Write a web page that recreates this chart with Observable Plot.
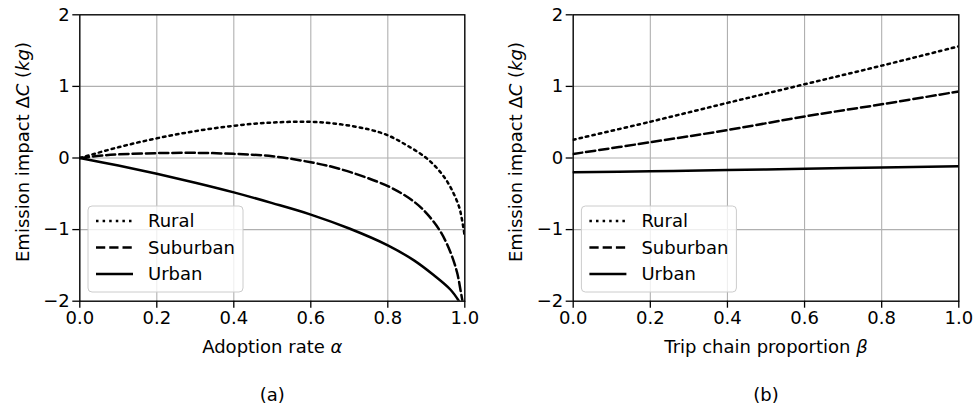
<!DOCTYPE html>
<html><head><meta charset="utf-8">
<script src="https://cdn.jsdelivr.net/npm/d3@7"></script>
<script src="https://cdn.jsdelivr.net/npm/@observablehq/plot@0.6"></script>
<style>
body{margin:0;background:#fff;font-family:"DejaVu Sans",sans-serif;}
#wrap{position:relative;width:975px;height:412px;overflow:hidden;}
.panel{position:absolute;top:0;}
</style></head><body><div id="wrap"></div><script>
// ---- data ----
const seriesNames = ["Rural", "Suburban", "Urban"];
const xTicks = [0, 0.2, 0.4, 0.6, 0.8, 1.0];
const yTicks = [-2, -1, 0, 1, 2];

// Panel (a): adoption rate alpha
const alphaRural = [0, 0.1, 0.2, 0.3, 0.4, 0.5, 0.6, 0.677, 0.75, 0.8, 0.85, 0.9, 0.937, 0.963, 0.985, 0.993, 1.0];
const ruralA     = [0, 0.15, 0.275, 0.375, 0.45, 0.495, 0.505, 0.47, 0.40, 0.317, 0.175, 0.0, -0.2, -0.41, -0.68, -0.87, -1.1];
const alphaSub   = [0, 0.05, 0.1, 0.2, 0.3, 0.4, 0.5, 0.6, 0.677, 0.803, 0.868, 0.902, 0.937, 0.963, 0.98, 0.989, 0.994];
const suburbanA  = [0, 0.03, 0.05, 0.068, 0.072, 0.058, 0.025, -0.06, -0.155, -0.40, -0.61, -0.78, -1.03, -1.32, -1.6, -1.85, -2.0];
const alphaUrban = [0, 0.1, 0.2, 0.3, 0.4, 0.5, 0.6, 0.7, 0.8, 0.868, 0.919, 0.963, 0.985];
const urbanA     = [0, -0.105, -0.22, -0.345, -0.48, -0.63, -0.79, -0.985, -1.22, -1.43, -1.635, -1.84, -2.0];

// Panel (b): trip chain proportion beta
const beta      = [0, 0.2, 0.4, 0.6, 0.8, 1.0];
const ruralB    = [0.255, 0.507, 0.77, 1.03, 1.29, 1.56];
const suburbanB = [0.056, 0.22, 0.39, 0.58, 0.75, 0.93];
const urbanB    = [-0.2, -0.185, -0.168, -0.15, -0.133, -0.116];

const yLabelParts = [["Emission impact \u0394", false], ["C", true], [" (", false], ["kg", true], [")", false]];
const xLabelA = [["Adoption rate ", false], ["\u03b1", true]];
const xLabelB = [["Trip chain proportion ", false], ["\u03b2", true]];

// ---- styles ----
const dashes = {Rural: "2.5,4.1", Suburban: "9.25,4", Urban: null};
const FONT = "DejaVu Sans";

function rows(xs, ys, s) { return xs.map((x, i) => ({x, y: ys[i], s})); }

function richText(svg, plain, parts) {
  d3.select(svg).selectAll("text").each(function() {
    if (this.textContent === plain) {
      const t = d3.select(this);
      t.text(null);
      parts.forEach(([str, it]) => {
        const ts = t.append("tspan").text(str);
        if (it) ts.attr("font-style", "italic");
      });
    }
  });
}

function addLegend(svg, fx, fy) {
  const W = 155, H = 86;
  const g = d3.select(svg).append("g")
    .attr("transform", `translate(${fx + 8.7},${fy - 8.7 - H})`);
  g.append("rect").attr("width", W).attr("height", H).attr("rx", 4)
    .attr("fill", "white").attr("fill-opacity", 0.8)
    .attr("stroke", "#cccccc").attr("stroke-width", 1);
  seriesNames.forEach((name, i) => {
    const y = 15 + i * 26.5;
    const ln = g.append("line").attr("x1", 8).attr("x2", 45).attr("y1", y).attr("y2", y)
      .attr("stroke", "black").attr("stroke-width", 2.5);
    if (dashes[name]) ln.attr("stroke-dasharray", dashes[name]);
    g.append("text").attr("x", 60).attr("y", y).attr("dy", "0.35em")
      .attr("text-anchor", "start")
      .attr("font-size", 18).attr("font-family", FONT).attr("fill", "black").text(name);
  });
}

function panel({data, xParts, caption, left, width, marginLeft, marginRight}) {
  const marginTop = 14.3, marginBottom = 412 - 300.7;
  const xPlain = xParts.map(d => d[0]).join("");
  const yPlain = yLabelParts.map(d => d[0]).join("");
  const svg = Plot.plot({
    width, height: 412, marginLeft, marginRight, marginTop, marginBottom,
    style: "font-family: 'DejaVu Sans'; font-size: 18px; color: black; background: white;",
    x: {domain: [0, 1]},
    y: {domain: [-2, 2]},
    marks: [
      Plot.gridX(xTicks, {stroke: "#b0b0b0", strokeOpacity: 1, strokeWidth: 1.1}),
      Plot.gridY(yTicks, {stroke: "#b0b0b0", strokeOpacity: 1, strokeWidth: 1.1}),
      ...seriesNames.map(name => Plot.line(data.filter(d => d.s === name), {
        x: "x", y: "y", stroke: "black", strokeWidth: 2.5,
        strokeDasharray: dashes[name] || undefined, curve: "catmull-rom", clip: true
      })),
      Plot.frame({stroke: "black", strokeWidth: 1.3}),
      Plot.axisX(xTicks, {tickSize: 7, tickPadding: 3, tickFormat: d3.format(".1f"), label: null, strokeWidth: 1.3, fontSize: 18}),
      Plot.axisY(yTicks, {tickSize: 7, tickPadding: 3, tickFormat: d3.format("d"), label: null, strokeWidth: 1.3, fontSize: 18}),
      Plot.text([xPlain], {frameAnchor: "bottom", textAnchor: "middle", lineAnchor: "middle", dy: 46, fontSize: 18, fill: "black"}),
      Plot.text([yPlain], {frameAnchor: "left", rotate: -90, textAnchor: "middle", lineAnchor: "middle", dx: -57, dy: -6, fontSize: 18, fill: "black"}),
      Plot.text([caption], {frameAnchor: "bottom", textAnchor: "middle", lineAnchor: "middle", dy: 94, fontSize: 18, fill: "black"})
    ]
  });
  d3.select(svg).selectAll("text").attr("font-family", FONT).attr("font-size", 18);
  richText(svg, xPlain, xParts);
  richText(svg, yPlain, yLabelParts);
  addLegend(svg, marginLeft, 412 - marginBottom);
  const div = document.createElement("div");
  div.className = "panel";
  div.style.left = left + "px";
  div.appendChild(svg);
  document.getElementById("wrap").appendChild(div);
}

const dataA = [
  ...rows(alphaRural, ruralA, "Rural"),
  ...rows(alphaSub, suburbanA, "Suburban"),
  ...rows(alphaUrban, urbanA, "Urban")
];
const dataB = [
  ...rows(beta, ruralB, "Rural"),
  ...rows(beta, suburbanB, "Suburban"),
  ...rows(beta, urbanB, "Urban")
];

panel({data: dataA, xParts: xLabelA, caption: "(a)", left: 0, width: 487, marginLeft: 79.3, marginRight: 22.7});
panel({data: dataB, xParts: xLabelB, caption: "(b)", left: 487, width: 488, marginLeft: 85.7, marginRight: 16.7});
</script></body></html>
